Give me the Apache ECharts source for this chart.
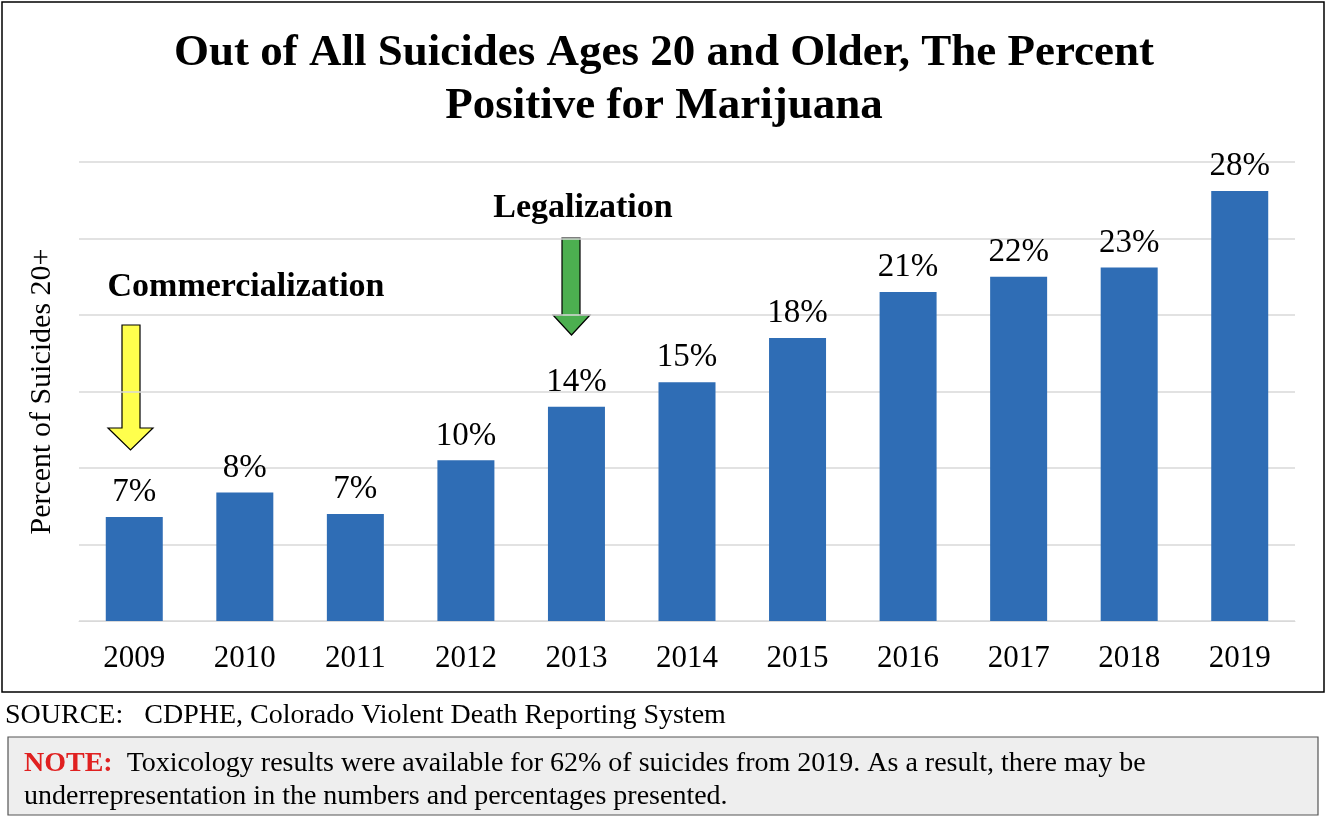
<!DOCTYPE html>
<html>
<head>
<meta charset="UTF-8">
<script src="https://cdn.jsdelivr.net/npm/echarts@6/dist/echarts.min.js"></script>
<style>
  html, body { margin: 0; padding: 0; background: #fff; }
  #main { width: 1328px; height: 824px; }
</style>
</head>
<body>
<div id="main"></div>
<script>
var years = ['2009', '2010', '2011', '2012', '2013', '2014', '2015', '2016', '2017', '2018', '2019'];
var percents = [6.8, 8.4, 7.0, 10.5, 14.0, 15.6, 18.5, 21.5, 22.5, 23.1, 28.1];
var percentLabels = ['7%', '8%', '7%', '10%', '14%', '15%', '18%', '21%', '22%', '23%', '28%'];

var serif = '"Liberation Serif", "DejaVu Serif", serif';
var chart = echarts.init(document.getElementById('main'));

function arrow(x1, x2, top, neck, hx1, hx2, tip, color) {
    var mid = (hx1 + hx2) / 2;
    return {
        type: 'polygon',
        shape: { points: [[x1, top], [x2, top], [x2, neck], [hx2, neck], [mid, tip], [hx1, neck], [x1, neck]] },
        style: { fill: color, stroke: '#000', lineWidth: 1.2 }
    };
}

var option = {
    animation: false,
    title: {
        text: 'Out of All Suicides Ages 20 and Older, The Percent\nPositive for Marijuana',
        left: 'center', top: 22,
        textStyle: { fontFamily: serif, fontSize: 45, fontWeight: 'bold', color: '#000', lineHeight: 53 }
    },
    grid: { left: 79, right: 33, top: 162, bottom: 203 },
    xAxis: {
        type: 'category', data: years,
        axisLine: { lineStyle: { color: '#d9d9d9' } },
        axisTick: { show: false },
        axisLabel: { fontFamily: serif, fontSize: 31, color: '#000', margin: 22 }
    },
    yAxis: {
        type: 'value', min: 0, max: 30, interval: 5,
        name: 'Percent of Suicides 20+', nameLocation: 'middle', nameGap: 22,
        nameTextStyle: { fontFamily: serif, fontSize: 30, color: '#000' },
        axisLabel: { show: false },
        splitLine: { lineStyle: { color: '#d9d9d9', width: 1.5 } }
    },
    series: [{
        type: 'bar', data: percents, barWidth: 57,
        itemStyle: { color: '#2f6db5' },
        label: {
            show: true, position: 'top', distance: 8,
            fontFamily: serif, fontSize: 33, color: '#000',
            formatter: function (p) { return percentLabels[p.dataIndex]; }
        }
    }],
    graphic: [
        { type: 'rect', shape: { x: 2, y: 2, width: 1322, height: 690 }, style: { fill: 'none', stroke: '#000', lineWidth: 1.5 } },
        arrow(122, 140, 325, 428, 108, 153, 450, '#ffff4d'),
        arrow(562, 580, 238, 315, 553, 590, 335, '#4caf50'),
        { type: 'text', x: 246, y: 287, style: { text: 'Commercialization', fontFamily: serif, fontSize: 34, fontWeight: 'bold', fill: '#000', align: 'center', verticalAlign: 'middle' } },
        { type: 'text', x: 583, y: 208, style: { text: 'Legalization', fontFamily: serif, fontSize: 34, fontWeight: 'bold', fill: '#000', align: 'center', verticalAlign: 'middle' } },
        { type: 'text', x: 5, y: 716, style: { text: 'SOURCE:   CDPHE, Colorado Violent Death Reporting System', fontFamily: serif, fontSize: 28, fill: '#000', verticalAlign: 'middle' } },
        { type: 'rect', shape: { x: 8, y: 737, width: 1310, height: 78 }, style: { fill: '#eeeeee', stroke: '#555', lineWidth: 1.2 } },
        { type: 'text', x: 24, y: 764, style: { text: '{r|NOTE:}  Toxicology results were available for 62% of suicides from 2019. As a result, there may be', fontFamily: serif, fontSize: 28, fill: '#000', verticalAlign: 'middle', rich: { r: { fontFamily: serif, fontSize: 28, fontWeight: 'bold', fill: '#e02020', color: '#e02020' } } } },
        { type: 'text', x: 24, y: 797, style: { text: 'underrepresentation in the numbers and percentages presented.', fontFamily: serif, fontSize: 28, fill: '#000', verticalAlign: 'middle' } }
    ]
};
chart.setOption(option);
</script>
</body>
</html>
